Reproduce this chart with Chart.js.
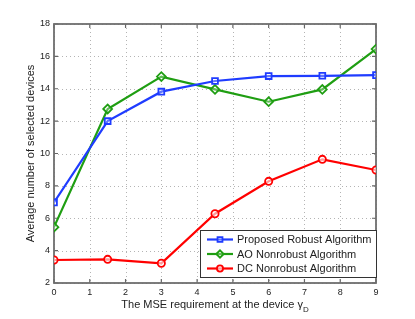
<!DOCTYPE html>
<html>
<head>
<meta charset="utf-8">
<script src="https://cdn.jsdelivr.net/npm/chart.js@4.4.0/dist/chart.umd.min.js"></script>
<style>
  html, body { margin:0; padding:0; background:#fff; }
</style>
</head>
<body>
<canvas id="chart" width="415" height="319"></canvas>
<script>
// data
const gammaD = [0, 1.5, 3, 4.5, 6, 7.5, 9];
const robustVals = [6.98, 12.0, 13.82, 14.48, 14.78, 14.8, 14.84];
const aoVals = [5.45, 12.75, 14.75, 13.96, 13.2, 13.96, 16.45];
const dcVals = [3.42, 3.46, 3.22, 6.28, 8.28, 9.64, 8.98];
const seriesNames = ["Proposed Robust Algorithm", "AO Nonrobust Algorithm", "DC Nonrobust Algorithm"];
const xTicks = [0, 1, 2, 3, 4, 5, 6, 7, 8, 9];
const yTicks = [2, 4, 6, 8, 10, 12, 14, 16, 18];
const xTitle = "The MSE requirement at the device \u03b3";
const xTitleSub = "D";
const yTitle = "Average number of selected devices";

const FONT = "'Liberation Sans', Arial, Helvetica, sans-serif";
const colors = ["#1f3cff", "#1f9e12", "#ff0000"];
const shapes = ["rect", "rectRot", "circle"];
const radii = [4.1, 4.4, 3.6];
const markerFill = "rgba(255,255,255,0.3)";

function pts(vals){ return gammaD.map((g,i) => ({x:g, y:vals[i]})); }

const allVals = [robustVals, aoVals, dcVals];
const datasets = allVals.map((vals, i) => ({
  label: seriesNames[i],
  data: pts(vals),
  borderColor: colors[i],
  backgroundColor: markerFill,
  borderWidth: 2.2,
  pointStyle: shapes[i],
  pointRadius: radii[i],
  pointBorderWidth: 1.8,
  pointBorderColor: colors[i],
  pointBackgroundColor: i == 2 ? "rgba(255,255,255,0.6)" : markerFill,
  tension: 0
}));

const framePlugin = {
  id: "frame",
  beforeDatasetsDraw(chart){
    const {ctx, chartArea:a, scales:{x, y}} = chart;
    ctx.save();
    // dotted grid
    ctx.strokeStyle = "#b4b4b4";
    ctx.lineWidth = 1;
    ctx.setLineDash([1, 3]);
    ctx.beginPath();
    xTicks.forEach(v => {
      const px = Math.round(x.getPixelForValue(v)) + 0.5;
      ctx.moveTo(px, a.top); ctx.lineTo(px, a.bottom);
    });
    yTicks.forEach(v => {
      const py = Math.round(y.getPixelForValue(v)) + 0.5;
      ctx.moveTo(a.left, py); ctx.lineTo(a.right, py);
    });
    ctx.stroke();
    ctx.setLineDash([]);
    // inward ticks
    ctx.strokeStyle = "#666";
    ctx.lineWidth = 1.2;
    ctx.beginPath();
    xTicks.forEach(v => {
      const px = x.getPixelForValue(v);
      ctx.moveTo(px, a.bottom); ctx.lineTo(px, a.bottom - 4);
      ctx.moveTo(px, a.top); ctx.lineTo(px, a.top + 4);
    });
    yTicks.forEach(v => {
      const py = y.getPixelForValue(v);
      ctx.moveTo(a.left, py); ctx.lineTo(a.left + 4, py);
      ctx.moveTo(a.right, py); ctx.lineTo(a.right - 4, py);
    });
    ctx.stroke();
    ctx.lineWidth = 1.8;
    ctx.strokeStyle = "#6e6e6e";
    ctx.strokeRect(a.left, a.top, a.right - a.left, a.bottom - a.top);
    ctx.restore();
  },
  afterDraw(chart){
    const {ctx, chartArea:a} = chart;
    ctx.save();
    ctx.fillStyle = "#222";
    // y title
    ctx.font = "11px " + FONT;
    ctx.textAlign = "center";
    ctx.textBaseline = "middle";
    ctx.translate(31, (a.top + a.bottom) / 2);
    ctx.rotate(-Math.PI / 2);
    ctx.fillText(yTitle, 0, 0);
    ctx.setTransform(1, 0, 0, 1, 0, 0);
    // x title with subscript
    ctx.textAlign = "left";
    ctx.textBaseline = "alphabetic";
    ctx.font = "11px " + FONT;
    const w1 = ctx.measureText(xTitle).width;
    ctx.font = "8px " + FONT;
    const w2 = ctx.measureText(xTitleSub).width;
    const x0 = (a.left + a.right) / 2 - (w1 + w2) / 2;
    ctx.font = "11px " + FONT;
    ctx.fillText(xTitle, x0, 308);
    ctx.font = "8px " + FONT;
    ctx.fillText(xTitleSub, x0 + w1, 312);

    // legend
    const lx = 200, ly = 230, lw = 176, lh = 47;
    ctx.fillStyle = "#fff";
    ctx.fillRect(lx, ly, lw, lh);
    ctx.strokeStyle = "#333";
    ctx.lineWidth = 1;
    ctx.strokeRect(lx + 0.5, ly + 0.5, lw, lh);
    const rows = [239.5, 254, 268.5];
    chart.data.datasets.forEach((ds, i) => {
      const yy = rows[i];
      ctx.strokeStyle = ds.borderColor;
      ctx.lineWidth = 2.2;
      ctx.beginPath();
      ctx.moveTo(lx + 7, yy); ctx.lineTo(lx + 33, yy);
      ctx.stroke();
      ctx.lineWidth = 1.8;
      ctx.fillStyle = ds.pointBackgroundColor;
      Chart.helpers.drawPoint(ctx, {pointStyle: ds.pointStyle, radius: ds.pointRadius * 0.85, borderWidth: 1.8, rotation: 0}, lx + 20, yy);
      ctx.fillStyle = "#222";
      ctx.font = "11px " + FONT;
      ctx.textBaseline = "middle";
      ctx.fillText(ds.label, lx + 37, yy + 0.5);
    });
    ctx.restore();
  }
};

new Chart(document.getElementById("chart").getContext("2d"), {
  type: "line",
  data: { datasets: datasets },
  options: {
    responsive: false,
    animation: false,
    layout: { padding: { top: 24, right: 39, left: 0, bottom: 0 } },
    plugins: { legend: { display: false }, tooltip: { enabled: false } },
    scales: {
      x: {
        type: "linear", min: 0, max: 9,
        afterFit(s){ s.height = 36; },
        afterBuildTicks(s){ s.ticks = xTicks.map(v => ({value: v})); },
        ticks: { color: "#222", font: { size: 9, family: FONT }, padding: 4, maxRotation: 0 },
        grid: { display: false, drawTicks: false },
        border: { display: false }
      },
      y: {
        type: "linear", min: 2, max: 18,
        afterFit(s){ s.width = 54; },
        afterBuildTicks(s){ s.ticks = yTicks.map(v => ({value: v})); },
        ticks: { color: "#222", font: { size: 9, family: FONT }, padding: 4 },
        grid: { display: false, drawTicks: false },
        border: { display: false }
      }
    }
  },
  plugins: [framePlugin]
});
</script>
</body>
</html>
